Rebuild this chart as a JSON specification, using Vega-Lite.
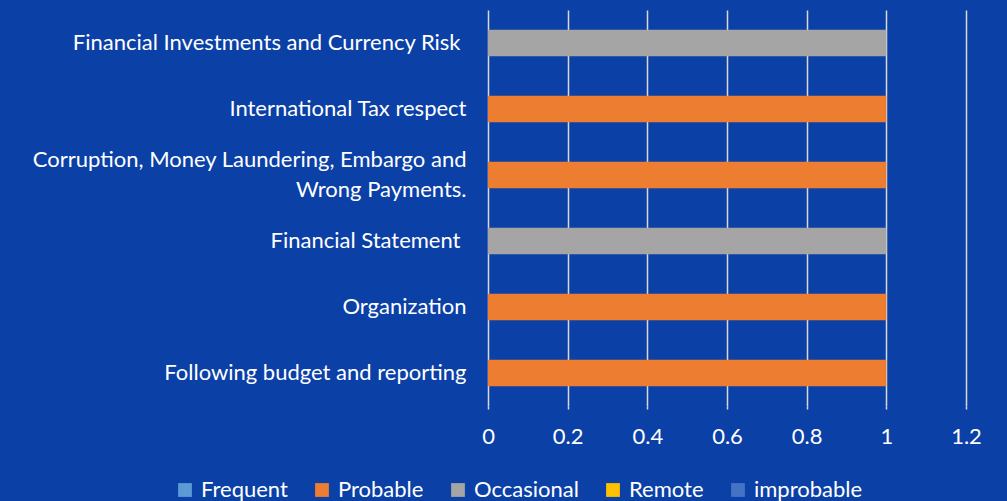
{
  "$schema": "https://vega.github.io/schema/vega-lite/v6.json",
  "width": 478,
  "height": 396,
  "autosize": {"type": "none"},
  "padding": {"left": 488, "top": 10, "right": 41, "bottom": 95},
  "background": "#0b40a6",
  "config": {
    "view": {"stroke": null},
    "font": "Lato",
    "axis": {"labelColor": "#ffffff", "labelFont": "Lato", "labelFontSize": 22},
    "legend": {"labelColor": "#ffffff", "labelFont": "Lato", "labelFontSize": 22}
  },
  "data": {
    "values": [
      {"risk": "Financial Investments and Currency Risk ", "level": "Occasional", "value": 1},
      {"risk": "International Tax respect", "level": "Probable", "value": 1},
      {"risk": "Corruption, Money Laundering, Embargo and Wrong Payments.", "level": "Probable", "value": 1},
      {"risk": "Financial Statement ", "level": "Occasional", "value": 1},
      {"risk": "Organization", "level": "Probable", "value": 1},
      {"risk": "Following budget and reporting", "level": "Probable", "value": 1}
    ]
  },
  "mark": {"type": "bar"},
  "encoding": {
    "y": {
      "field": "risk",
      "type": "nominal",
      "sort": null,
      "scale": {"paddingInner": 0.6, "paddingOuter": 0.3},
      "axis": {
        "title": null,
        "domain": false,
        "ticks": false,
        "labelPadding": {"condition": {"test": "indexof(datum.value, 'Financial') == 0", "value": 28}, "value": 22},
        "labelLimit": 500,
        "labelLineHeight": 30,
        "labelOffset": {"condition": {"test": "indexof(datum.value, 'Corruption') == 0", "value": -15}, "value": 0},
        "labelExpr": "datum.value == 'Corruption, Money Laundering, Embargo and Wrong Payments.' ? ['Corruption, Money Laundering, Embargo and', 'Wrong Payments.'] : datum.value"
      }
    },
    "x": {
      "field": "value",
      "type": "quantitative",
      "scale": {"domain": [0, 1.2], "nice": false},
      "axis": {
        "title": null,
        "values": [0, 0.2, 0.4, 0.6, 0.8, 1, 1.2],
        "format": "~g",
        "domain": false,
        "grid": true,
        "gridColor": "#d9d9d9",
        "gridWidth": 1.5,
        "gridOpacity": 1,
        "tickColor": "#d9d9d9",
        "tickWidth": 1.5,
        "tickSize": 3,
        "labelPadding": 17,
        "labelFlush": false
      }
    },
    "color": {
      "field": "level",
      "type": "nominal",
      "scale": {
        "domain": ["Frequent", "Probable", "Occasional", "Remote", "improbable"],
        "range": ["#5B9BD5", "#ED7D31", "#A5A5A5", "#FFC000", "#4472C4"]
      },
      "legend": {
        "title": null,
        "orient": "none",
        "direction": "horizontal",
        "legendX": -314,
        "legendY": 469,
        "symbolType": "square",
        "symbolSize": 190,
        "symbolStrokeWidth": 0,
        "symbolOpacity": 1,
        "labelOffset": 5,
        "columnPadding": 23
      }
    }
  }
}
